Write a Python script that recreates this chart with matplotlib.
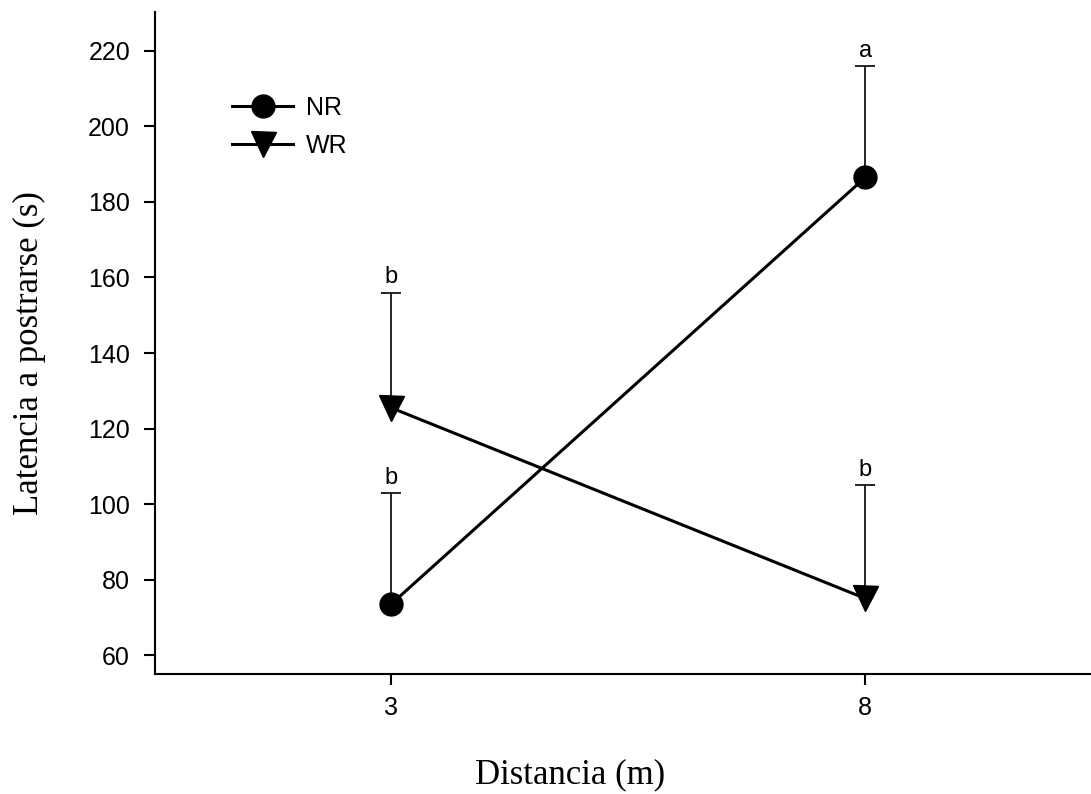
import matplotlib
matplotlib.use("Agg")
import matplotlib.pyplot as plt
import numpy as np

distance = [3, 8]
nr_mean = [73.5, 186.5]
nr_err = [29.5, 29.5]
wr_mean = [125.5, 75.0]
wr_err = [30.5, 30.0]
nr_letters = ["b", "a"]
wr_letters = ["b", "b"]
yticks = [60, 80, 100, 120, 140, 160, 180, 200, 220]
xticks = [3, 8]

fig = plt.figure(figsize=(10.91, 7.94), dpi=100)
ax = fig.add_axes([155/1091, 1 - 674/794, 1 - 155/1091, (674 - 12)/794])

tick_font = "Liberation Sans"
label_font = "Liberation Serif"


def upper_errorbar(x, m, e):
    cont = ax.errorbar(x, m, yerr=[[0] * len(e), e], fmt='none', ecolor='black',
                       elinewidth=1.2, capsize=7.5, capthick=1.2, zorder=2)
    for cl in cont[1]:
        if np.allclose(cl.get_ydata(), m):
            cl.set_visible(False)


upper_errorbar(distance, nr_mean, nr_err)
upper_errorbar(distance, wr_mean, wr_err)
ax.plot(distance, nr_mean, color='black', lw=2.2, marker='o', markersize=16.5,
        label='NR', zorder=3)
ax.plot(distance, wr_mean, color='black', lw=2.2, marker='v', markersize=18,
        label='WR', zorder=3)

for x, m, e, t in zip(distance, nr_mean, nr_err, nr_letters):
    ax.annotate(t, (x, m + e), xytext=(0, 3), textcoords='offset points',
                ha='center', va='bottom', fontsize=17, family=tick_font)
for x, m, e, t in zip(distance, wr_mean, wr_err, wr_letters):
    ax.annotate(t, (x, m + e), xytext=(0, 3), textcoords='offset points',
                ha='center', va='bottom', fontsize=17, family=tick_font)

ax.set_xlim(0.51, 10.38)
ax.set_ylim(55.0, 230.3)
ax.set_xticks(xticks)
ax.set_yticks(yticks)
for lab in ax.get_xticklabels() + ax.get_yticklabels():
    lab.set_family(tick_font)
    lab.set_fontsize(18)
ax.tick_params(axis='both', direction='out', length=8, width=1.5, color='black')
ax.tick_params(axis='y', pad=10)
ax.tick_params(axis='x', pad=8)

for s in ['top', 'right']:
    ax.spines[s].set_visible(False)
for s in ['left', 'bottom']:
    ax.spines[s].set_linewidth(1.5)

ax.set_xlabel("Distancia (m)", family=label_font, fontsize=25)
ax.set_ylabel("Latencia a postrarse (s)", family=label_font, fontsize=25)
ax.xaxis.set_label_coords((570 - 155) / 936, (674 - 775) / 662)
ax.xaxis.label.set_va('center')
ax.yaxis.set_label_coords((29 - 155) / 936, (674 - 353) / 662)
ax.yaxis.label.set_va('center')

leg = ax.legend(loc='upper left', bbox_to_anchor=((232 - 155) / 936, (674 - 96) / 662),
                frameon=False, prop={'family': tick_font, 'size': 18},
                handlelength=2.45, handletextpad=0.5, labelspacing=0.55,
                borderaxespad=0, borderpad=0)

fig.savefig("out.png", dpi=100)
